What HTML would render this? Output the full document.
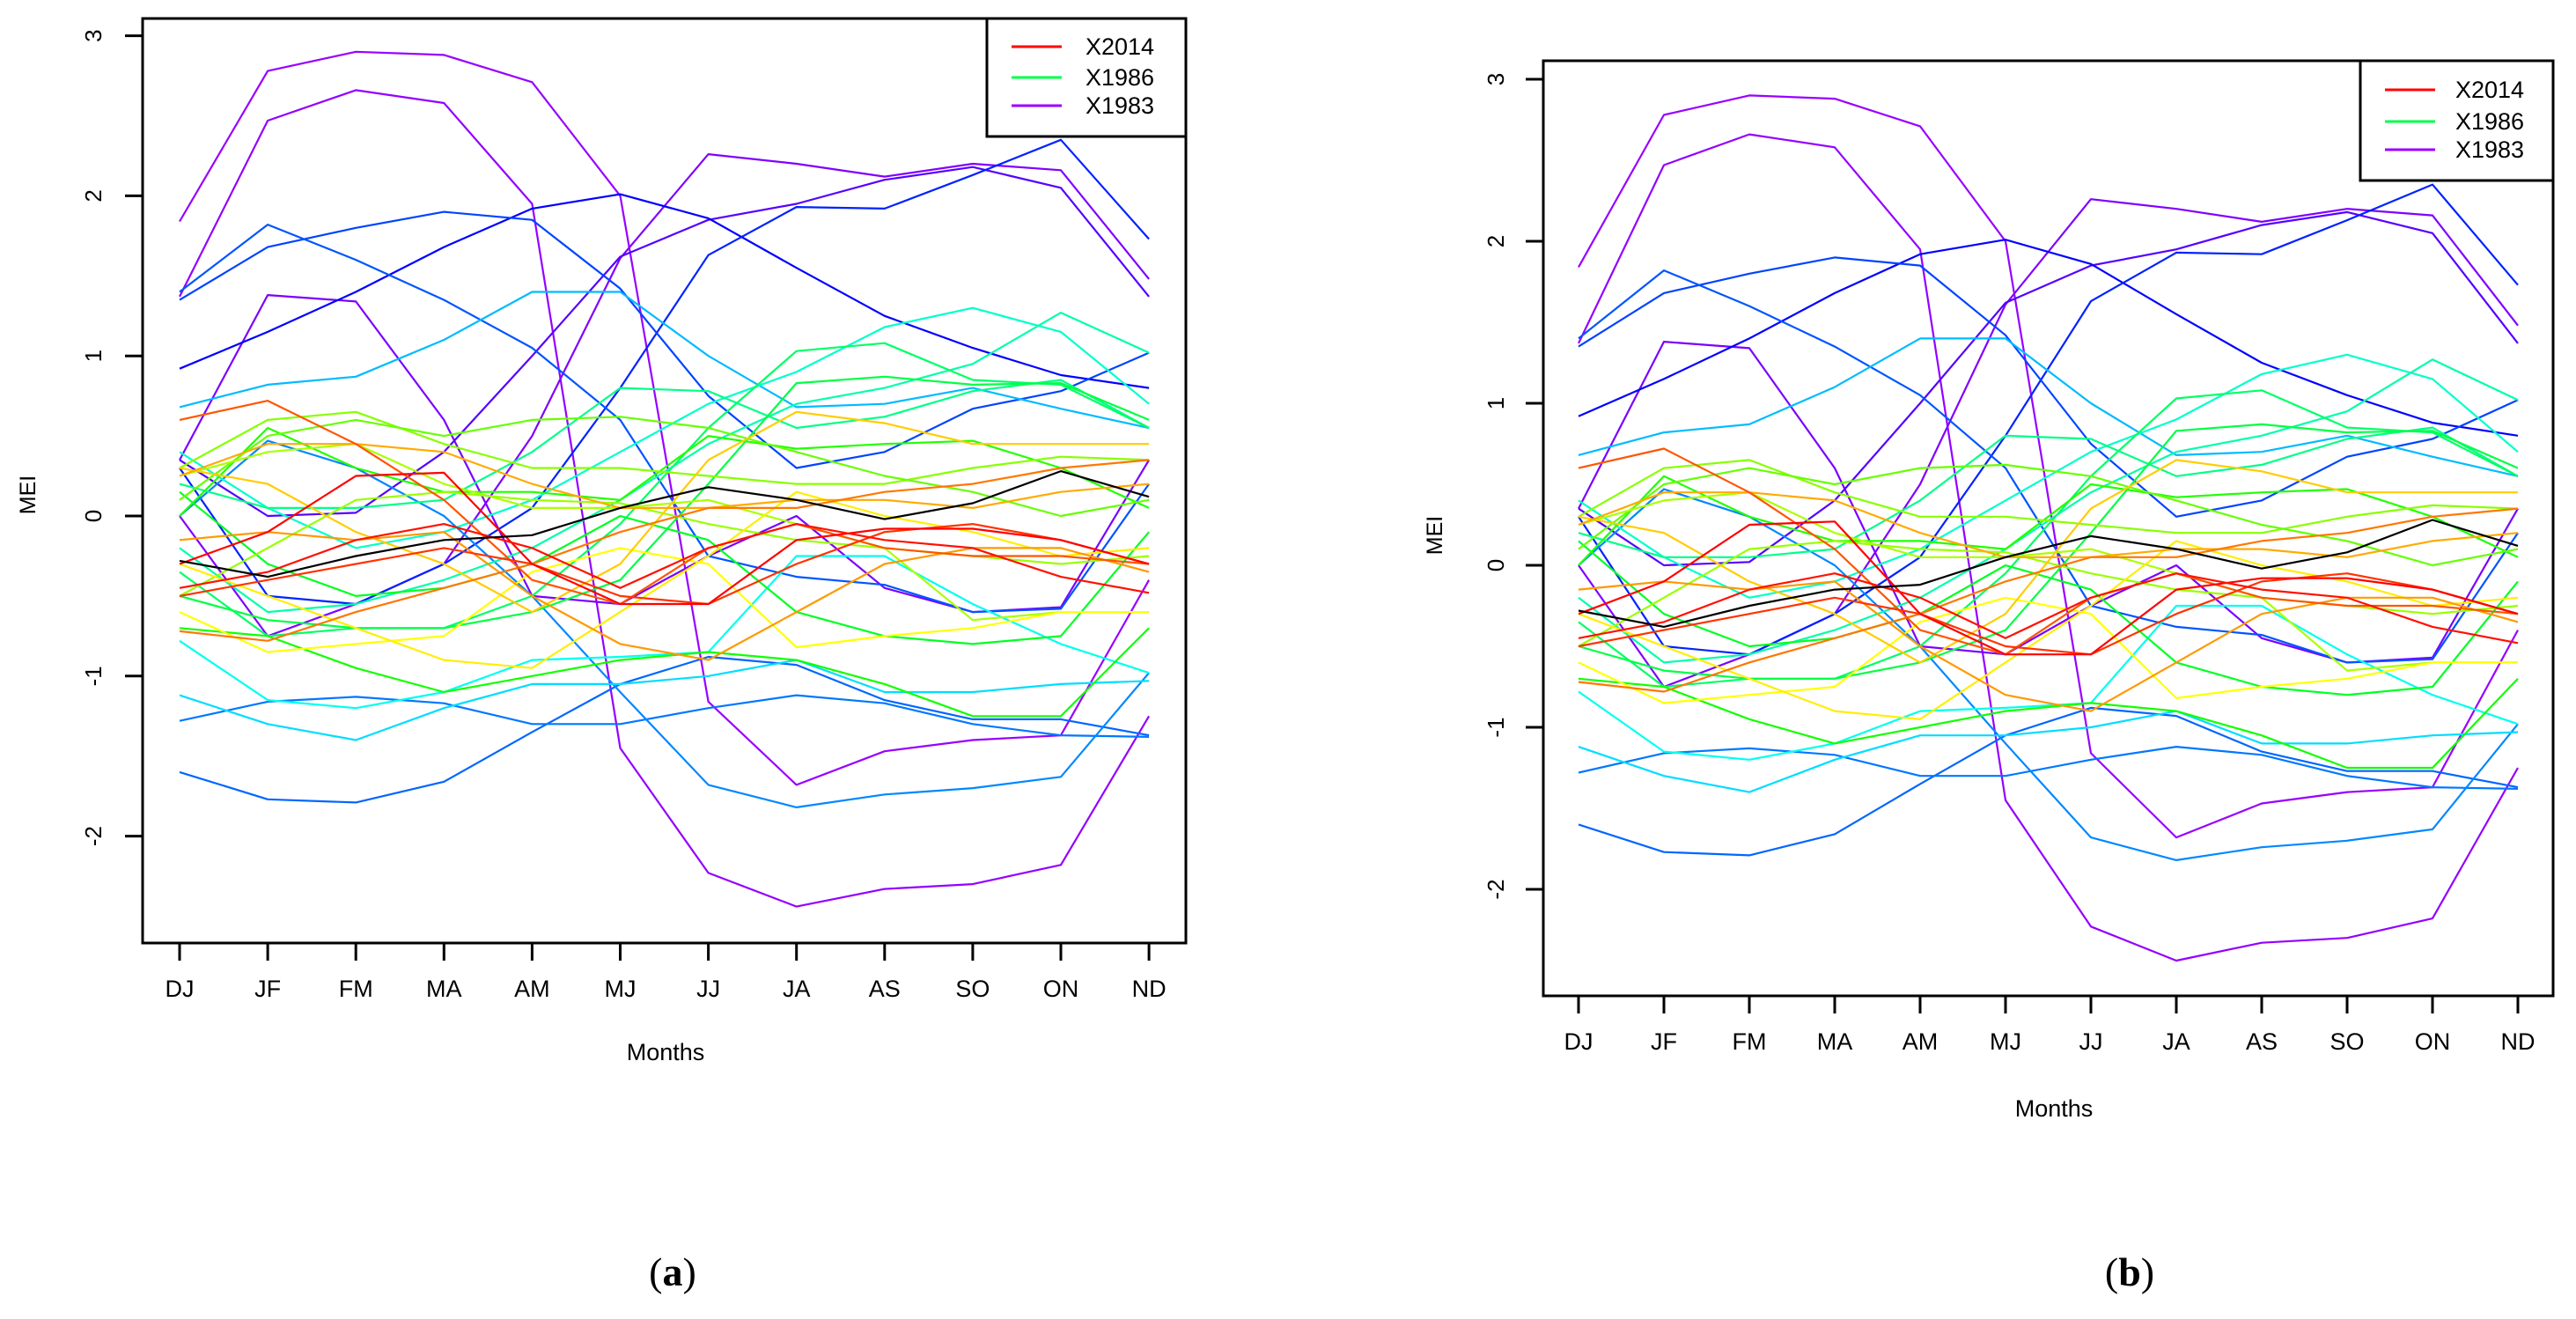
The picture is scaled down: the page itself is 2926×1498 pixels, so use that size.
<!DOCTYPE html>
<html><head><meta charset="utf-8"><style>
html,body{margin:0;padding:0;background:#fff;}
svg{display:block;}
text{font-family:"Liberation Sans",sans-serif;fill:#000;}
</style></head><body>
<svg id="fig" width="2926" height="1498" viewBox="0 0 2926 1498" xmlns="http://www.w3.org/2000/svg">
<rect x="0" y="0" width="2926" height="1498" fill="#fff"/>
<g id="panelA"></g>
<g id="panelB"></g>
<text x="764" y="1460" text-anchor="middle" style="font-family:'Liberation Serif',serif;font-size:46px">(<tspan font-weight="bold">a</tspan>)</text>
<text x="2419" y="1460" text-anchor="middle" style="font-family:'Liberation Serif',serif;font-size:46px">(<tspan font-weight="bold">b</tspan>)</text>
</svg>
<script>
const months = ["DJ","JF","FM","MA","AM","MJ","JJ","JA","AS","SO","ON","ND"];
const yTicks = [-2,-1,0,1,2,3];
const seriesColors = ["#9900ff","#9400ff","#8000ff","#7a00ff","#5500ff","#0000ff","#0022ff","#0044ff","#0055ff","#0066ff","#0077ff","#0088ff","#00bbff","#00ddff","#00ffee","#00ffcc","#00ffaa","#00ff88","#00ff66","#00ff44","#00ff22","#22ff00","#11ff00","#88ff00","#66ff00","#aaff00","#99ff00","#ffff00","#ffee00","#ffcc00","#ffaa00","#ff9900","#ff7700","#ff5500","#ff3300","#ff0000","#ff1100","#000000"];
const s01 = [1.84,2.78,2.9,2.88,2.71,2.0,-1.16,-1.68,-1.47,-1.4,-1.37,-0.4];
const s02 = [1.37,2.47,2.66,2.58,1.95,-1.45,-2.23,-2.44,-2.33,-2.3,-2.18,-1.25];
const s03 = [0.0,-0.75,-0.55,-0.3,0.5,1.61,2.26,2.2,2.12,2.2,2.16,1.48];
const s04 = [0.35,1.38,1.34,0.6,-0.5,-0.55,-0.25,0.0,-0.45,-0.6,-0.57,0.35];
const s05 = [0.35,0.0,0.02,0.4,1.0,1.62,1.85,1.95,2.1,2.18,2.05,1.37];
const s06 = [0.92,1.15,1.4,1.68,1.92,2.01,1.86,1.55,1.25,1.05,0.88,0.8];
const s07 = [0.3,-0.5,-0.55,-0.3,0.05,0.8,1.63,1.93,1.92,2.13,2.35,1.73];
const s08 = [1.35,1.68,1.8,1.9,1.85,1.42,0.75,0.3,0.4,0.67,0.78,1.02];
const s09 = [1.4,1.82,1.6,1.35,1.05,0.6,-0.25,-0.38,-0.43,-0.6,-0.58,0.2];
const s10 = [-1.6,-1.77,-1.79,-1.66,-1.35,-1.05,-0.88,-0.93,-1.15,-1.27,-1.27,-1.37];
const s11 = [-1.28,-1.16,-1.13,-1.17,-1.3,-1.3,-1.2,-1.12,-1.17,-1.3,-1.37,-1.38];
const s12 = [0.0,0.47,0.3,0.0,-0.5,-1.1,-1.68,-1.82,-1.74,-1.7,-1.63,-0.98];
const s13 = [0.68,0.82,0.87,1.1,1.4,1.4,1.0,0.68,0.7,0.8,0.67,0.55];
const s14 = [-1.12,-1.3,-1.4,-1.2,-1.05,-1.05,-1.0,-0.9,-1.1,-1.1,-1.05,-1.03];
const s15 = [-0.78,-1.15,-1.2,-1.1,-0.9,-0.88,-0.85,-0.25,-0.25,-0.55,-0.8,-0.98];
const s16 = [0.4,0.05,-0.2,-0.1,0.1,0.4,0.7,0.9,1.18,1.3,1.15,0.7];
const s17 = [-0.2,-0.6,-0.55,-0.4,-0.2,0.1,0.45,0.7,0.8,0.95,1.27,1.02];
const s18 = [0.2,0.05,0.05,0.1,0.4,0.8,0.78,0.55,0.62,0.78,0.85,0.55];
const s19 = [-0.35,-0.75,-0.7,-0.7,-0.5,-0.05,0.55,1.03,1.08,0.85,0.82,0.55];
const s20 = [-0.5,-0.65,-0.7,-0.7,-0.6,-0.4,0.2,0.83,0.87,0.82,0.83,0.6];
const s21 = [0.15,-0.3,-0.5,-0.45,-0.3,0.0,-0.15,-0.6,-0.75,-0.8,-0.75,-0.1];
const s22 = [0.0,0.55,0.3,0.15,0.15,0.1,0.5,0.42,0.45,0.47,0.3,0.05];
const s23 = [-0.7,-0.75,-0.95,-1.1,-1.0,-0.9,-0.85,-0.9,-1.05,-1.25,-1.25,-0.7];
const s24 = [0.3,0.6,0.65,0.45,0.3,0.3,0.25,0.2,0.2,0.3,0.37,0.35];
const s25 = [0.1,0.5,0.6,0.5,0.6,0.62,0.55,0.4,0.25,0.15,0.0,0.1];
const s26 = [0.25,0.4,0.45,0.2,0.05,0.05,0.1,-0.05,-0.2,-0.65,-0.6,-0.6];
const s27 = [-0.5,-0.2,0.1,0.15,0.1,0.08,-0.05,-0.15,-0.2,-0.25,-0.3,-0.25];
const s28 = [-0.6,-0.85,-0.8,-0.75,-0.35,-0.2,-0.3,-0.82,-0.75,-0.7,-0.6,-0.6];
const s29 = [-0.3,-0.5,-0.7,-0.9,-0.95,-0.6,-0.25,0.15,0.0,-0.1,-0.25,-0.2];
const s30 = [0.3,0.2,-0.1,-0.3,-0.6,-0.3,0.35,0.65,0.58,0.45,0.45,0.45];
const s31 = [0.25,0.45,0.45,0.4,0.2,0.05,0.05,0.1,0.1,0.05,0.15,0.2];
const s32 = [-0.15,-0.1,-0.15,-0.1,-0.5,-0.8,-0.9,-0.6,-0.3,-0.2,-0.2,-0.35];
const s33 = [-0.72,-0.78,-0.6,-0.45,-0.3,-0.1,0.05,0.05,0.15,0.2,0.3,0.35];
const s34 = [0.6,0.72,0.45,0.1,-0.4,-0.55,-0.2,-0.05,-0.2,-0.25,-0.25,-0.3];
const s35 = [-0.5,-0.4,-0.3,-0.2,-0.3,-0.5,-0.55,-0.3,-0.1,-0.05,-0.15,-0.3];
const s36 = [-0.3,-0.1,0.25,0.27,-0.3,-0.55,-0.55,-0.15,-0.08,-0.08,-0.15,-0.3];
const s37 = [-0.45,-0.35,-0.15,-0.05,-0.2,-0.45,-0.2,-0.05,-0.15,-0.2,-0.38,-0.48];
const s38 = [-0.28,-0.38,-0.25,-0.15,-0.12,0.05,0.18,0.1,-0.02,0.08,0.28,0.12];
const allSeries = [s01,s02,s03,s04,s05,s06,s07,s08,s09,s10,s11,s12,s13,s14,s15,s16,s17,s18,s19,s20,s21,s22,s23,s24,s25,s26,s27,s28,s29,s30,s31,s32,s33,s34,s35,s36,s37,s38];
const legendLabels = ["X2014","X1986","X1983"];
const legendColors = ["#ff0000","#00ff44","#9900ff"];

const NS = "http://www.w3.org/2000/svg";
function mk(tag, attrs, parent){
  const e = document.createElementNS(NS, tag);
  for (const k in attrs) e.setAttribute(k, attrs[k]);
  parent.appendChild(e);
  return e;
}
function drawPanel(g, P){
  const xs = i => P.x0 + i*P.dx;
  const ys = v => P.y0 - v*P.dy;
  allSeries.forEach((s, si) => {
    const pts = s.map((v,i)=> xs(i).toFixed(1)+","+ys(v).toFixed(1)).join(" ");
    const pl = mk("polyline", {points:pts, fill:"none", stroke:seriesColors[si], "stroke-width":2.2, "stroke-linejoin":"round"}, g);
    
    
  });
  const fr = mk("rect", {x:P.fx0, y:P.fy0, width:P.fx1-P.fx0, height:P.fy1-P.fy0, fill:"none", stroke:"#000", "stroke-width":3}, g);
  
  
  yTicks.forEach(t => {
    const tk = mk("line", {x1:P.fx0-20, x2:P.fx0, y1:ys(t), y2:ys(t), stroke:"#000", "stroke-width":3}, g);
    
    
    const tl = mk("text", {x:P.ylx, y:ys(t), "text-anchor":"middle", "font-size":26, transform:"rotate(-90 "+P.ylx+" "+ys(t)+")"}, g);
    tl.textContent = String(t);
    
    
  });
  months.forEach((m,i) => {
    const tk = mk("line", {x1:xs(i), x2:xs(i), y1:P.fy1, y2:P.fy1+20, stroke:"#000", "stroke-width":3}, g);
    
    
    const tl = mk("text", {x:xs(i), y:P.xly, "text-anchor":"middle", "font-size":27}, g);
    tl.textContent = m;
    
    
  });
  const xt = mk("text", {x:P.mx, y:P.my, "text-anchor":"middle", "font-size":27}, g);
  xt.textContent = "Months";
  
  
  const yt = mk("text", {x:P.meix, y:P.meiy, "text-anchor":"middle", "font-size":25, transform:"rotate(-90 "+P.meix+" "+P.meiy+")"}, g);
  yt.textContent = "MEI";
  
  
  const lb = mk("rect", {x:P.lx0, y:P.fy0, width:P.fx1-P.lx0, height:P.ly1-P.fy0, fill:"#fff", stroke:"#000", "stroke-width":3}, g);
  
  
  legendLabels.forEach((l,i) => {
    const yy = P.ly[i];
    const ln = mk("line", {x1:P.lx0+28, x2:P.lx0+85, y1:yy, y2:yy, stroke:legendColors[i], "stroke-width":3}, g);
    
    
    const tx = mk("text", {x:P.ltx, y:yy+9, "font-size":27}, g);
    tx.textContent = l;
    
    
  });
}
drawPanel(document.getElementById("panelA"), {x0:204, dx:100.1, y0:586, dy:181.8, fx0:162, fx1:1347, fy0:21, fy1:1071,
  ylx:115, xly:1132, mx:756, my:1204, meix:40, meiy:562, lx0:1121, ly1:155, ly:[53,88,120], ltx:1233});
drawPanel(document.getElementById("panelB"), {x0:1793, dx:97, y0:642, dy:184, fx0:1753, fx1:2900, fy0:69, fy1:1131,
  ylx:1708, xly:1192, mx:2333, my:1268, meix:1638, meiy:608, lx0:2681, ly1:205, ly:[102,138,170], ltx:2789});
</script>
</body></html>
